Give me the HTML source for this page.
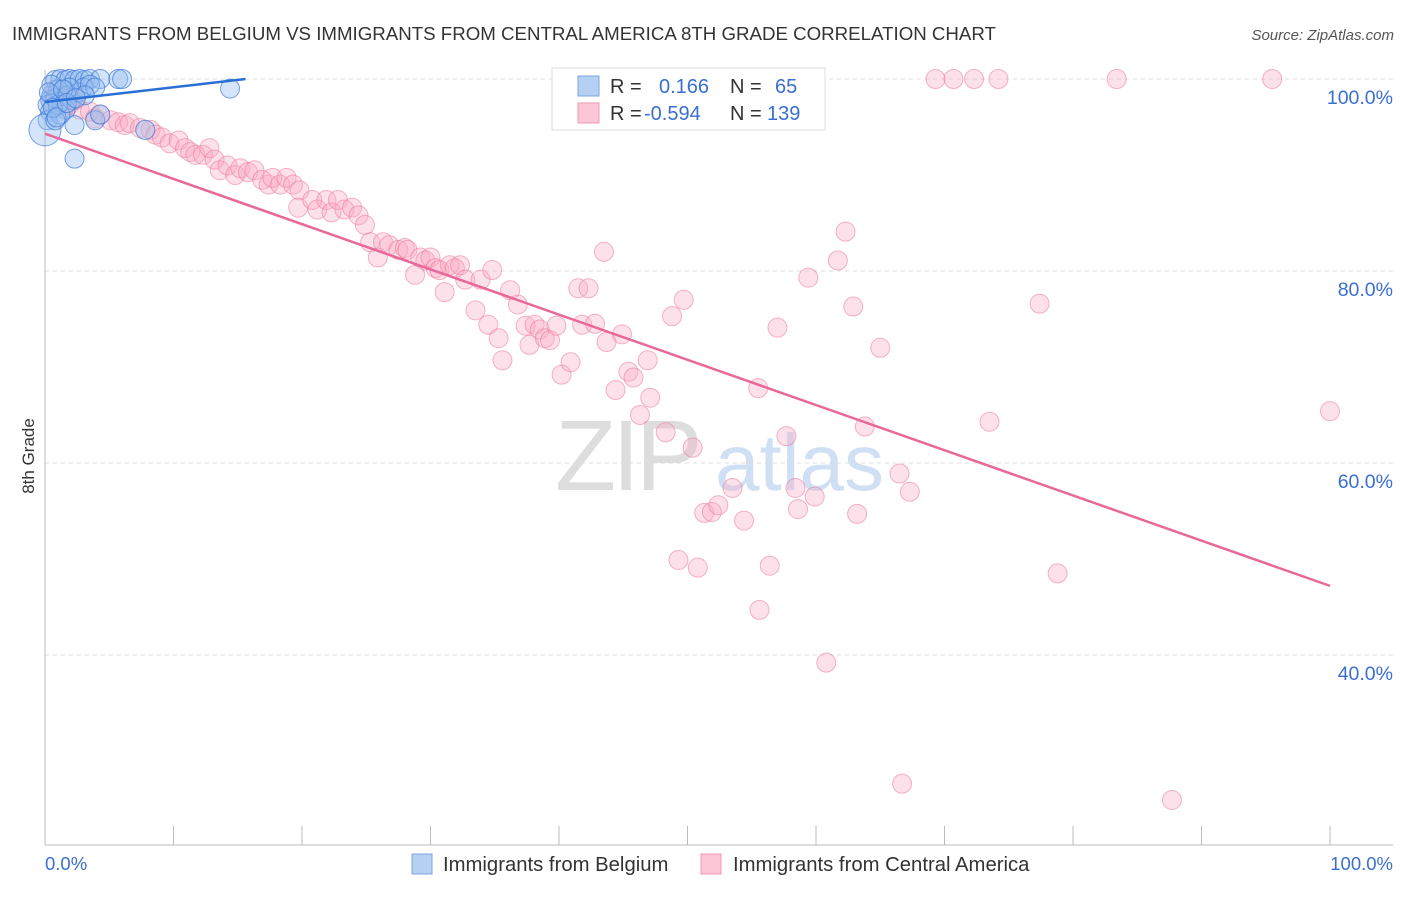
<!DOCTYPE html>
<html><head><meta charset="utf-8"><style>
body{margin:0;background:#fff;font-family:"Liberation Sans",sans-serif}
svg text{font-family:"Liberation Sans",sans-serif}
</style></head><body>
<svg id="chart" width="1406" height="892" xmlns="http://www.w3.org/2000/svg">
<text x="12" y="40" font-size="18.7" fill="#333">IMMIGRANTS FROM BELGIUM VS IMMIGRANTS FROM CENTRAL AMERICA 8TH GRADE CORRELATION CHART</text>
<text x="1394" y="40" font-size="15" fill="#555" text-anchor="end" font-style="italic">Source: ZipAtlas.com</text>
<g>
<text x="555" y="490" font-size="100" fill="#ddd" font-family="Liberation Serif,serif" letter-spacing="-4">ZIP</text>
<text x="715" y="490" font-size="80" fill="#cfe0f5">atlas</text>
</g>
<g id="grid"></g>
<g id="axes"></g>
<g id="pts"></g>
<g id="trends"></g>
<text transform="translate(34,456) rotate(-90)" font-size="17" fill="#333" text-anchor="middle">8th Grade</text>
<g>
<rect x="552" y="68" width="273" height="62" fill="#fff" stroke="#ddd"/>
<rect x="578" y="76" width="21" height="20" fill="#b6d0f4" stroke="#7aa6e0"/>
<rect x="578" y="103" width="21" height="20" fill="#fcc6d6" stroke="#f09ab5"/>
<text x="610" y="93" font-size="20" fill="#333">R =</text>
<text x="659" y="93" font-size="20" fill="#3a6fd0">0.166</text>
<text x="730" y="93" font-size="20" fill="#333">N =</text>
<text x="775" y="93" font-size="20" fill="#3a6fd0">65</text>
<text x="610" y="120" font-size="20" fill="#333">R =</text>
<text x="644" y="120" font-size="20" fill="#3a6fd0">-0.594</text>
<text x="730" y="120" font-size="20" fill="#333">N =</text>
<text x="767" y="120" font-size="20" fill="#3a6fd0">139</text>
</g>
<g>
<rect x="412" y="854" width="20" height="20" fill="#b6d0f4" stroke="#7aa6e0"/>
<text x="443" y="871" font-size="20.3" fill="#333">Immigrants from Belgium</text>
<rect x="701" y="854" width="20" height="20" fill="#fcc6d6" stroke="#f09ab5"/>
<text x="733" y="871" font-size="20.3" fill="#333">Immigrants from Central America</text>
</g>
</svg>
<script>
const yTicks=[40,60,80,100];
const yTickLabels=["40.0%","60.0%","80.0%","100.0%"];
const xTicks=[0,10,20,30,40,50,60,70,80,90,100];
const xEndLabels=["0.0%","100.0%"];
const blueX=[0.8,1.2,1.6,1.9,2.3,2.7,3.1,3.5,4.3,5.7,6.0,1.0,0.5,0.4,0.2,0.4,0.2,0,0.8,1.3,1.8,2.1,2.6,3.0,3.5,3.9,1.6,2.3,3.9,4.3,7.8,2.3,14.4,1.2,0.8,1.9,0.5,3.1,1.0,0.3,0.6,1.4,0.9,1.7,2.4];
const blueY=[99.9,100,99.9,100,99.9,100,99.9,100,100,100,100,98.9,98.3,97.8,97.3,96.6,95.7,94.7,98.0,97.6,98.3,97.8,98.6,99.1,99.4,99.1,96.8,95.2,95.7,96.3,94.7,91.7,99.0,96.3,95.7,99.1,99.4,98.3,97.3,98.6,97.0,98.9,96.0,97.5,98.0];
const pinkX=[0.8,1.2,1.6,1.9,2.3,2.7,3.5,3.9,4.3,5.1,5.7,6.2,6.6,7.4,8.2,8.6,9.1,9.7,10.4,10.9,11.3,11.7,12.3,12.8,13.2,13.6,14.2,14.8,15.2,15.8,16.3,16.9,17.4,17.7,18.3,18.8,19.3,19.8,19.7,20.8,21.2,21.9,22.3,22.8,23.3,23.9,24.4,24.9,25.3,25.9,26.3,26.8,27.5,28.0,28.2,28.8,29.2,29.6,30.0,30.4,30.7,31.1,31.5,31.9,32.3,32.7,33.5,33.9,34.5,34.8,35.3,35.6,36.2,36.8,37.4,37.7,38.1,38.5,38.9,39.3,39.8,40.2,40.9,41.5,41.8,42.3,42.8,43.5,43.7,44.4,44.9,45.4,45.8,46.3,46.9,47.1,48.3,48.8,49.3,49.7,50.4,50.8,51.3,51.9,52.4,53.5,54.4,55.5,55.6,56.4,57.0,57.7,58.4,58.6,59.4,59.9,60.8,61.7,62.3,62.9,63.2,63.8,65.0,66.5,66.7,67.3,69.3,70.7,72.3,74.2,73.5,77.4,78.8,83.4,87.7,95.5,100,47.7,0.5,1.0,1.5,2.0];
const pinkY=[98.9,97.8,98.3,97.3,97.8,96.8,96.6,95.9,96.3,95.7,95.5,95.2,95.4,94.9,94.7,94.2,93.9,93.3,93.6,92.8,92.4,92.1,92.1,92.8,91.6,90.5,91.0,90.0,90.7,90.3,90.5,89.5,89.0,89.7,89.0,89.7,89.0,88.4,86.6,87.4,86.4,87.4,86.1,87.4,86.4,86.6,85.8,84.8,83.0,81.4,83.0,82.7,82.2,82.4,82.2,79.6,81.4,81.1,81.4,80.3,80.1,77.8,80.6,80.3,80.6,79.1,75.9,79.1,74.4,80.1,73.0,70.7,78.0,76.5,74.3,72.3,74.4,73.9,73.0,72.8,74.3,69.2,70.5,78.2,74.4,78.2,74.5,82.0,72.6,67.6,73.4,69.5,68.9,65.0,70.7,66.8,63.2,75.3,49.9,77.0,61.6,49.1,54.8,54.9,55.6,57.4,54.0,67.8,44.7,49.3,74.1,62.8,57.4,55.2,79.3,56.5,39.2,81.1,84.1,76.3,54.7,63.8,72.0,58.9,26.6,57.0,100,100,100,100,64.3,76.6,48.5,100,24.9,100,65.4,100,97.5,98.5,97.0,98.0];
const blueTrend=[0,15.6,97.6,100];   // x0,x1,y0,y1
const pinkTrend=[0,100,94.3,47.2];
const X=v=>45+v*12.85, Y=v=>79+(100-v)*9.6;
const NS="http://www.w3.org/2000/svg";
function mk(tag,attrs,parent){const e=document.createElementNS(NS,tag);for(const k in attrs)e.setAttribute(k,attrs[k]);document.getElementById(parent).appendChild(e);return e;}
yTicks.forEach((t,i)=>{
  const l=mk('line',{x1:45,x2:1393,y1:Y(t),y2:Y(t),stroke:'#ddd','stroke-dasharray':'4,4'},'grid');
  
  
  const tx=mk('text',{x:1393,y:Y(t)+25,'font-size':19.5,fill:'#3a6fd0','text-anchor':'end'},'axes');
  tx.textContent=yTickLabels[i];
  
  
});
const ax=mk('line',{x1:45,x2:1393,y1:845,y2:845,stroke:'#bbb'},'axes');


const ay=mk('line',{x1:45,x2:45,y1:70,y2:845,stroke:'#bbb'},'axes');


xTicks.forEach(t=>{
  const l=mk('line',{x1:X(t),x2:X(t),y1:826,y2:845,stroke:'#bbb'},'axes');
  
  
});
[[0,'start'],[100,'end']].forEach((p,i)=>{
  const tx=mk('text',{x:i?1393:45,y:870,'font-size':18.5,fill:'#3a6fd0','text-anchor':p[1]},'axes');
  tx.textContent=xEndLabels[i];
  
  
});
pinkX.forEach((v,i)=>{
  const c=mk('circle',{cx:X(v),cy:Y(pinkY[i]),r:9.5,fill:'rgba(248,170,195,0.35)',stroke:'rgba(235,120,155,0.55)','stroke-width':1},'pts');
  
  
});
blueX.forEach((v,i)=>{
  const c=mk('circle',{cx:X(v),cy:Y(blueY[i]),r:(v===0?16:9.5),fill:'rgba(150,190,240,0.4)',stroke:'rgba(60,120,215,0.7)','stroke-width':1},'pts');
  
  
});
const bt=mk('line',{x1:X(blueTrend[0]),x2:X(blueTrend[1]),y1:Y(blueTrend[2]),y2:Y(blueTrend[3]),stroke:'#2a6fd6','stroke-width':2.5},'trends');


const pt=mk('line',{x1:X(pinkTrend[0]),x2:X(pinkTrend[1]),y1:Y(pinkTrend[2]),y2:Y(pinkTrend[3]),stroke:'#e8689a','stroke-width':2.5},'trends');


</script>
</body></html>
